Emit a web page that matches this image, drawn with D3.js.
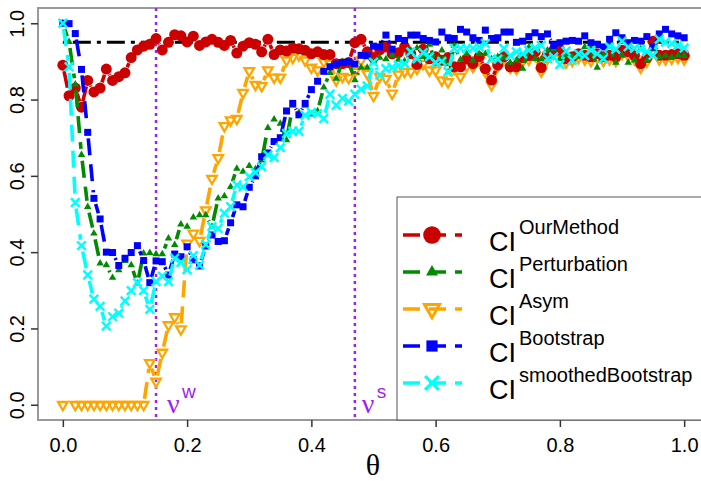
<!DOCTYPE html>
<html><head><meta charset="utf-8">
<script src="https://cdn.jsdelivr.net/npm/d3@7"></script>
<style>body{margin:0;background:#fff} svg{display:block;font-family:"Liberation Sans",Arial,sans-serif}</style>
</head><body><svg id="c" width="701" height="481"></svg>
<script>
// ---- data ----
const theta = d3.range(0, 101).map(i => i / 100);
const ciOurMethod = [0.89,0.81,0.83,0.78,0.85,0.82,0.83,0.88,0.85,0.86,
 0.87,0.91,0.93,0.94,0.945,0.96,0.93,0.95,0.97,0.967,
 0.951,0.966,0.942,0.951,0.958,0.95,0.942,0.955,0.922,0.94,
 0.949,0.945,0.925,0.958,0.918,0.93,0.927,0.935,0.933,0.929,
 0.92,0.925,0.918,0.918,0.894,0.894,0.897,0.949,0.958,0.925,
 0.91,0.93,0.938,0.92,0.923,0.938,0.92,0.892,0.932,0.907,
 0.912,0.903,0.91,0.886,0.886,0.906,0.894,0.912,0.881,0.851,
 0.89,0.912,0.886,0.886,0.91,0.915,0.925,0.884,0.918,0.929,
 0.929,0.907,0.912,0.92,0.916,0.912,0.92,0.912,0.916,0.912,
 0.929,0.925,0.916,0.894,0.91,0.953,0.916,0.916,0.918,0.92,0.916];
const ciPerturbation = [1.0,0.951,0.84,0.655,0.519,0.449,0.371,0.366,0.333,0.353,
 0.377,0.366,0.318,0.397,0.398,0.395,0.395,0.436,0.419,0.473,
 0.467,0.491,0.497,0.497,0.467,0.541,0.547,0.571,0.619,0.611,
 0.626,0.618,0.641,0.726,0.748,0.737,0.694,0.784,0.766,0.784,
 0.761,0.77,0.832,0.87,0.855,0.899,0.899,0.851,0.884,0.884,
 0.9,0.91,0.906,0.916,0.905,0.901,0.929,0.935,0.912,0.944,
 0.894,0.929,0.872,0.941,0.905,0.92,0.903,0.92,0.92,0.906,
 0.912,0.91,0.897,0.903,0.881,0.937,0.907,0.906,0.929,0.932,
 0.907,0.915,0.912,0.912,0.938,0.935,0.884,0.916,0.938,0.897,
 0.915,0.897,0.903,0.932,0.903,0.932,0.912,0.915,0.912,0.916,0.915];
const ciAsym = [0,null,0,0,0,0,0,0,0,0,
 0,0,0,0,0.11,0.061,0.137,0.209,0.23,0.198,
 0.423,0.449,0.43,0.51,0.593,0.647,0.731,0.746,0.75,0.818,
 0.875,0.839,0.836,0.877,0.858,0.858,0.903,0.91,0.916,0.903,
 0.884,0.877,0.899,0.894,0.851,0.86,0.857,0.873,0.903,0.868,
 0.81,0.86,0.855,0.816,0.866,0.873,0.873,0.881,0.894,0.877,
 0.877,0.851,0.846,0.881,0.86,0.888,0.886,0.903,0.873,0.838,
 0.888,0.907,0.884,0.881,0.9,0.905,0.915,0.874,0.908,0.92,
 0.92,0.897,0.902,0.91,0.906,0.902,0.91,0.902,0.906,0.902,
 0.92,0.915,0.906,0.884,0.9,0.943,0.906,0.906,0.908,0.91,0.906];
const ciBootstrap = [1.0,0.999,0.973,0.879,0.714,0.541,0.487,0.4,0.399,0.365,
 0.384,0.399,0.417,0.378,0.32,0.377,0.375,0.34,0.395,0.388,
 0.414,0.38,0.364,0.416,0.445,0.428,0.43,0.477,0.524,0.519,
 0.57,0.6,0.65,0.66,0.69,0.7,0.77,0.79,0.76,0.79,
 0.826,0.848,0.874,0.886,0.893,0.897,0.899,0.893,0.916,0.915,
 0.94,0.938,0.969,0.932,0.96,0.955,0.969,0.969,0.96,0.955,
 0.951,0.977,0.962,0.96,0.984,0.977,0.962,0.955,0.982,0.96,
 0.962,0.977,0.977,0.95,0.953,0.965,0.975,0.965,0.972,0.942,
 0.949,0.953,0.955,0.953,0.967,0.949,0.944,0.938,0.958,0.975,
 0.962,0.949,0.955,0.953,0.965,0.938,0.972,0.984,0.972,0.967,0.962];
const ciSmoothedBootstrap = [1.0,0.886,0.53,0.417,0.34,0.277,0.258,0.206,0.231,0.24,
 0.272,0.299,0.32,0.299,0.25,0.323,0.337,0.323,0.384,0.373,
 0.354,0.391,0.366,0.42,0.467,0.462,0.502,0.519,0.576,0.571,
 0.598,0.609,0.624,0.655,0.648,0.674,0.711,0.717,0.717,0.759,
 0.766,0.763,0.75,0.814,0.785,0.803,0.796,0.814,0.827,0.836,
 0.898,0.864,0.881,0.884,0.89,0.894,0.925,0.907,0.923,0.912,
 0.897,0.9,0.873,0.934,0.934,0.934,0.934,0.938,0.947,0.906,
 0.906,0.934,0.915,0.925,0.92,0.929,0.935,0.942,0.907,0.912,
 0.892,0.927,0.903,0.92,0.915,0.929,0.92,0.907,0.938,0.932,
 0.953,0.938,0.934,0.932,0.925,0.916,0.958,0.951,0.947,0.942,0.935];
const seriesNames = ["OurMethod","Perturbation","Asym","Bootstrap","smoothedBootstrap"];
const seriesColors = ["#CD0000","#008B00","#FFA500","#0000FF","#00FFFF"];
const xTicks = [0, 0.2, 0.4, 0.6, 0.8, 1.0];
const yTicks = [0, 0.2, 0.4, 0.6, 0.8, 1.0];
const nominalLevel = 0.95;
const nuW = 0.15, nuS = 0.47;

// ---- drawing ----
const svg = d3.select("#c");
const x = d3.scaleLinear().domain([-0.04, 1.04]).range([38, 709]);
const y = d3.scaleLinear().domain([-0.04, 1.04]).range([420, 8]);
const purple = "#A020F0";
const serif = "Liberation Serif, DejaVu Serif, serif";

// box
svg.append("rect").attr("x", 38).attr("y", 8).attr("width", 671).attr("height", 412)
  .attr("fill", "none").attr("stroke", "#999").attr("stroke-width", 2);

// axes
const fmt = d3.format(".1f");
const gx = svg.append("g").attr("transform", "translate(0,420)")
  .call(d3.axisBottom(x).tickValues(xTicks).tickFormat(fmt).tickSize(7).tickPadding(11));
gx.select(".domain").remove();
gx.selectAll("line").attr("stroke", "#333").attr("stroke-width", 1.5);
gx.selectAll("text").attr("font-size", 20).attr("fill", "#000").attr("font-family", "Liberation Sans, Arial, sans-serif");
const gy = svg.append("g").attr("transform", "translate(38,0)")
  .call(d3.axisLeft(y).tickValues(yTicks).tickFormat(fmt).tickSize(7));
gy.select(".domain").remove();
gy.selectAll("line").attr("stroke", "#333").attr("stroke-width", 1.5);
gy.selectAll("text").attr("x", null).attr("dy", null)
  .attr("transform", "translate(-14,0) rotate(-90)").attr("text-anchor", "middle")
  .attr("font-size", 20).attr("fill", "#000").attr("font-family", "Liberation Sans, Arial, sans-serif");

// reference line
svg.append("line").attr("x1", x(0)).attr("x2", x(1)).attr("y1", y(nominalLevel)).attr("y2", y(nominalLevel))
  .attr("stroke", "#000").attr("stroke-width", 3).attr("stroke-dasharray", "4,6,18,6");

// vertical dotted lines
[nuW, nuS].forEach(v => {
  svg.append("line").attr("x1", x(v)).attr("x2", x(v)).attr("y1", 8).attr("y2", 420)
    .attr("stroke", purple).attr("stroke-width", 2.5).attr("stroke-dasharray", "3,4");
});

// markers
function marker(g, k, cx, cy, big) {
  const c = seriesColors[k];
  const s = big ? 1.6 : 1;
  if (k === 0) {
    g.append("circle").attr("cx", cx).attr("cy", cy).attr("r", 5.5 * s).attr("fill", c);
  } else if (k === 1) {
    const w = 7.5 * s, h = w * 0.866;
    g.append("path").attr("d", `M${cx},${cy - h * 2 / 3}L${cx + w / 2},${cy + h / 3}L${cx - w / 2},${cy + h / 3}Z`).attr("fill", c);
  } else if (k === 2) {
    const w = 9.5 * s, h = w * 0.866;
    g.append("path").attr("d", `M${cx},${cy + h * 2 / 3}L${cx + w / 2},${cy - h / 3}L${cx - w / 2},${cy - h / 3}Z`)
      .attr("fill", "none").attr("stroke", c).attr("stroke-width", 2.3 * (big ? 1.3 : 1));
  } else if (k === 3) {
    const w = 7 * s;
    g.append("rect").attr("x", cx - w / 2).attr("y", cy - w / 2).attr("width", w).attr("height", w).attr("fill", c);
  } else {
    const w = 4.3 * s;
    g.append("path").attr("d", `M${cx - w},${cy - w}L${cx + w},${cy + w}M${cx - w},${cy + w}L${cx + w},${cy - w}`)
      .attr("stroke", c).attr("stroke-width", 2.5 * (big ? 1.3 : 1));
  }
}

const allSeries = [ciOurMethod, ciPerturbation, ciAsym, ciBootstrap, ciSmoothedBootstrap];
const drawOrder = [2, 0, 1, 3, 4];
const gap = 6;
drawOrder.forEach(k => {
  const vals = allSeries[k];
  const g = svg.append("g");
  for (let i = 0; i < theta.length - 1; i++) {
    if (vals[i] == null || vals[i + 1] == null) continue;
    const x1 = x(theta[i]), y1 = y(vals[i]), x2 = x(theta[i + 1]), y2 = y(vals[i + 1]);
    const d = Math.hypot(x2 - x1, y2 - y1);
    if (d <= 2 * gap) continue;
    const ux = (x2 - x1) / d, uy = (y2 - y1) / d;
    g.append("line").attr("x1", x1 + ux * gap).attr("y1", y1 + uy * gap)
      .attr("x2", x2 - ux * gap).attr("y2", y2 - uy * gap)
      .attr("stroke", seriesColors[k]).attr("stroke-width", 3.6).attr("stroke-dasharray", "17,9");
  }
  theta.forEach((t, i) => { if (vals[i] != null) marker(g, k, x(t), y(vals[i]), false); });
});

// nu labels
function nuLabel(v, dx, sup) {
  svg.append("text").attr("x", x(v) + dx).attr("y", 413).attr("fill", purple)
    .attr("font-family", serif).attr("font-size", 28).text("ν");
  svg.append("text").attr("x", x(v) + dx + 15).attr("y", 398).attr("fill", purple).attr("font-size", 19).text(sup);
}
nuLabel(nuW, 11, "w");
nuLabel(nuS, 7, "s");

// legend
svg.append("rect").attr("x", 397).attr("y", 197).attr("width", 320).attr("height", 223)
  .attr("fill", "#fff").attr("stroke", "#555").attr("stroke-width", 1);
seriesNames.forEach((nm, k) => {
  const cy = 235 + 37 * k;
  const g = svg.append("g");
  g.append("line").attr("x1", 403).attr("x2", 462).attr("y1", cy).attr("y2", cy)
    .attr("stroke", seriesColors[k]).attr("stroke-width", 3.6).attr("stroke-dasharray", "17,9");
  marker(g, k, 432, cy, true);
  g.append("text").attr("x", 489).attr("y", cy + 16).attr("font-size", 27).attr("fill", "#000").text("CI");
  g.append("text").attr("x", 519).attr("y", cy - 1).attr("font-size", 20).attr("fill", "#000").text(nm);
});

// x label
svg.append("text").attr("x", 373).attr("y", 475).attr("text-anchor", "middle")
  .attr("font-family", serif).attr("font-size", 30).text("θ");
</script></body></html>
